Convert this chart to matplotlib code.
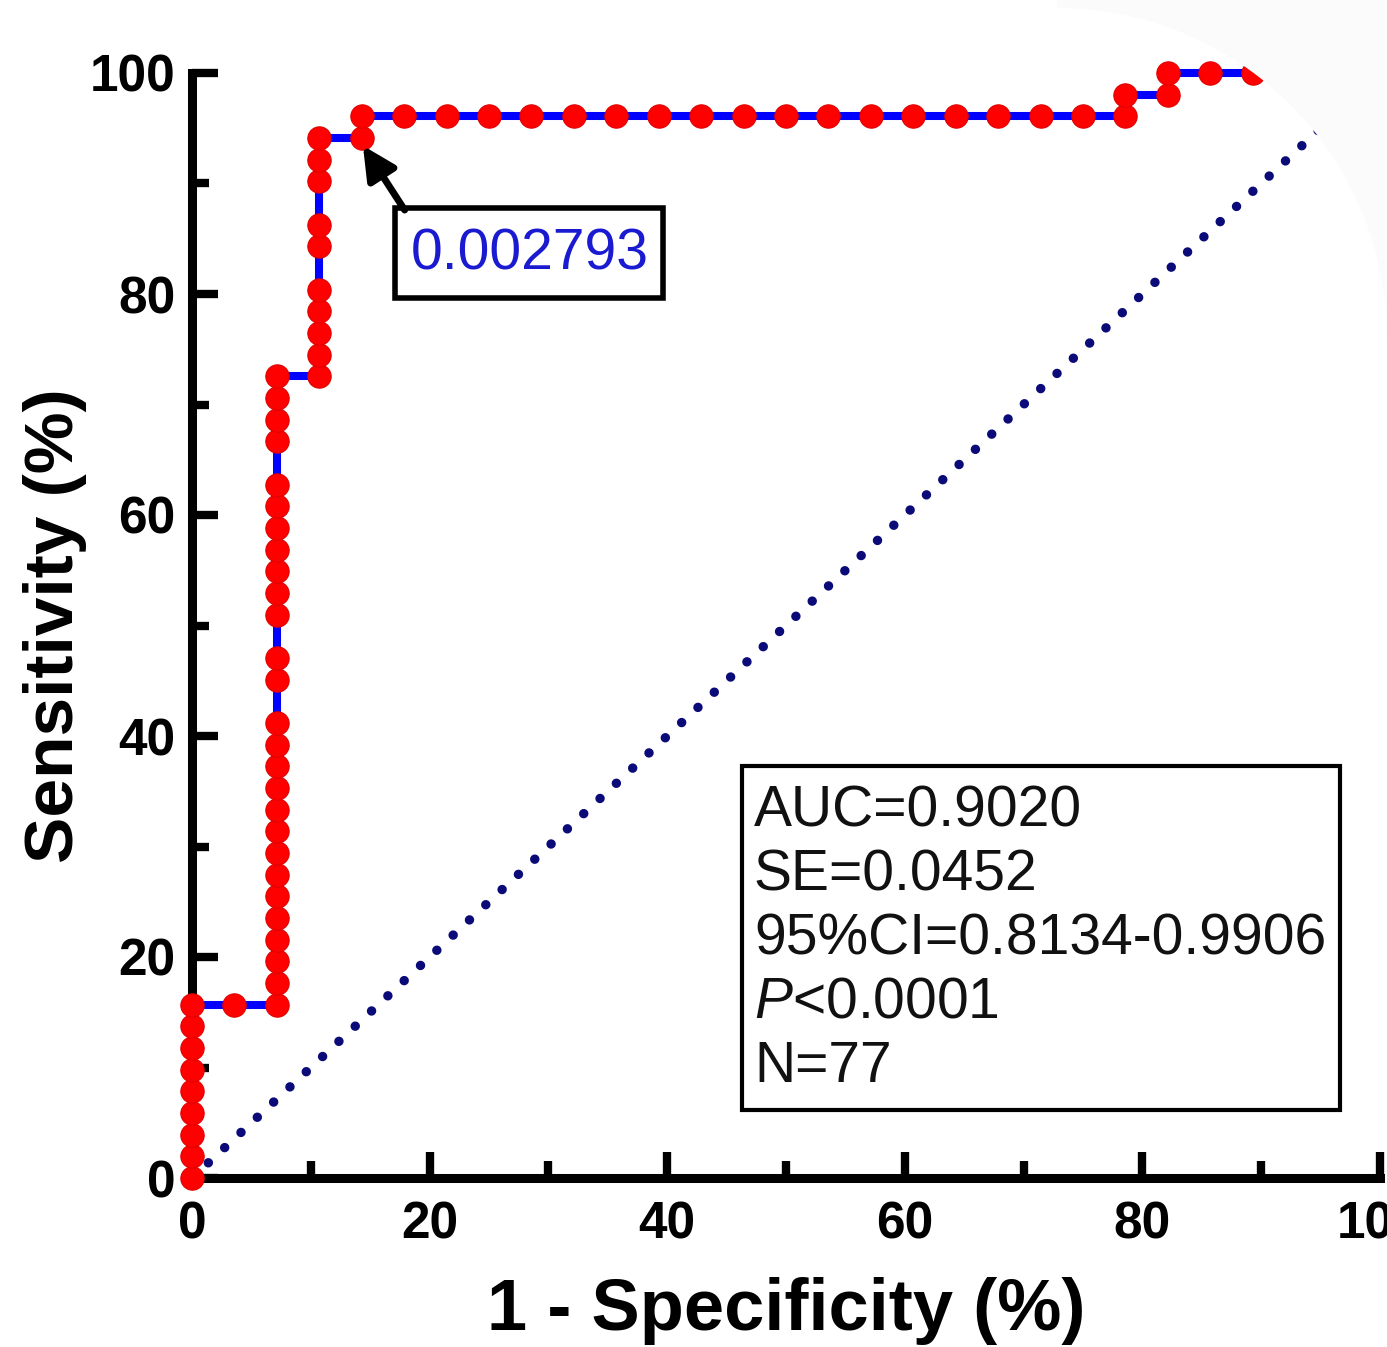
import numpy as np
import matplotlib
matplotlib.use('Agg')
import matplotlib.pyplot as plt
from matplotlib.patches import Rectangle, Polygon

plt.rcParams['font.family'] = ['Liberation Sans', 'DejaVu Sans']
plt.rcParams['mathtext.fontset'] = 'custom'
plt.rcParams['mathtext.rm'] = 'Liberation Sans'
plt.rcParams['mathtext.it'] = 'Liberation Sans:italic'

# ROC-Punkte (1 - Spezifitaet, Sensitivitaet) in %
fpr = [0, 0, 0, 0, 0, 0, 0, 0, 0,
       3.57,
       7.14, 7.14, 7.14, 7.14, 7.14, 7.14, 7.14, 7.14, 7.14, 7.14,
       7.14, 7.14, 7.14, 7.14, 7.14, 7.14, 7.14, 7.14, 7.14, 7.14,
       7.14, 7.14, 7.14, 7.14, 7.14, 7.14, 7.14,
       10.71, 10.71, 10.71, 10.71, 10.71, 10.71, 10.71, 10.71, 10.71, 10.71,
       14.29, 14.29,
       17.86, 21.43, 25.00, 28.57, 32.14, 35.71, 39.29, 42.86, 46.43,
       50.00, 53.57, 57.14, 60.71, 64.29, 67.86, 71.43, 75.00, 78.57,
       78.57,
       82.14, 82.14,
       85.71, 89.29, 92.86, 96.43, 100.0]
sens = [0, 1.96, 3.92, 5.88, 7.84, 9.80, 11.76, 13.73, 15.69,
        15.69,
        15.69, 17.65, 19.61, 21.57, 23.53, 25.49, 27.45, 29.41, 31.37, 33.33,
        35.29, 37.25, 39.22, 41.18, 45.10, 47.06, 50.98, 52.94, 54.90, 56.86,
        58.82, 60.78, 62.75, 66.67, 68.63, 70.59, 72.55,
        72.55, 74.51, 76.47, 78.43, 80.39, 84.31, 86.27, 90.20, 92.16, 94.12,
        94.12, 96.08,
        96.08, 96.08, 96.08, 96.08, 96.08, 96.08, 96.08, 96.08, 96.08,
        96.08, 96.08, 96.08, 96.08, 96.08, 96.08, 96.08, 96.08, 96.08,
        98.04,
        98.04, 100,
        100, 100, 100, 100, 100]

diag = [0, 100]
cutoff_label = '0.002793'
cutoff_point = (14.29, 94.12)
stats_lines = ['AUC=0.9020', 'SE=0.0452', '95%CI=0.8134-0.9906',
               r'$\it{P}$<0.0001', 'N=77']
ticks = [0, 20, 40, 60, 80, 100]

W, H = 1387, 1347
fig = plt.figure(figsize=(W / 100, H / 100), dpi=100)
ax = fig.add_axes([192 / W, 1 - 1178 / H, (1380 - 192) / W, (1178 - 73) / H])

# Diagonale
ax.plot(diag, diag, color='#0a0a78', lw=6.8, dashes=(0.01, 2.35),
        dash_capstyle='round', clip_on=False, zorder=2)

# ROC Kurve
ax.plot(fpr, sens, color='#0000ff', lw=5.8, clip_on=False, zorder=3)
ax.plot(fpr, sens, 'o', color='#ff0000', ms=16.8, mec='#e00000', mew=0.8,
        ls='none', clip_on=False, zorder=4)

ax.set_xlim(0, 100)
ax.set_ylim(0, 100)
ax.set_xticks(ticks)
ax.set_yticks(ticks)
ax.set_xticks([10, 30, 50, 70, 90], minor=True)
ax.set_yticks([10, 30, 50, 70, 90], minor=True)
for s in ['top', 'right']:
    ax.spines[s].set_visible(False)
for s in ['left', 'bottom']:
    ax.spines[s].set_linewidth(6.5)
ax.tick_params(which='major', direction='in', length=19, width=6, pad=12,
               labelsize=37)
ax.tick_params(which='minor', direction='in', length=12, width=6)
ax.tick_params(axis='x', which='major', pad=16)
for lab in ax.get_xticklabels() + ax.get_yticklabels():
    lab.set_fontweight('bold')

ax.set_xlabel('1 - Specificity (%)', fontsize=52, fontweight='bold', labelpad=20)
ax.set_ylabel('Sensitivity (%)', fontsize=50, fontweight='bold', labelpad=2)

# Cut-off Kasten mit Pfeil
ax.add_patch(Rectangle((17.09, 79.64), 22.56, 8.14, fill=True, fc='white',
                       ec='black', lw=4, zorder=5))
ax.text(28.4, 83.6, cutoff_label, color='#1a1ad0', fontsize=41,
        ha='center', va='center', zorder=6)
ax.annotate('', xy=(cutoff_point[0] + 0.1, cutoff_point[1] - 0.7),
            xytext=(17.9, 87.6),
            arrowprops=dict(arrowstyle='-|>,head_length=2.0,head_width=1.0',
                            color='black', lw=5, shrinkA=0, shrinkB=0),
            zorder=6)

# Statistik Kasten
ax.add_patch(Rectangle((46.3, 6.15), 50.3, 31.15, fill=True, fc='white',
                       ec='black', lw=3, zorder=5))
for i, line in enumerate(stats_lines):
    ax.text(47.3, 31.8 - i * 5.77, line, fontsize=41, color='#111111',
            ha='left', va='baseline', zorder=6)

# abgerundete Ecke oben rechts
R, cx, cy = 330, 1057, 338
t = np.linspace(np.pi / 2, 0, 60)
arc = [((cx + R * np.cos(a)) / W, 1 - (cy - R * np.sin(a)) / H) for a in t]
corner = [(cx / W, 1.0)] + arc + [(1.0, 1 - cy / H), (1.0, 1.0)]
fig.add_artist(Polygon(corner, closed=True, transform=fig.transFigure,
                       fc='#fbfbfb', ec='none', zorder=10))

fig.savefig('out.png', dpi=100, facecolor='white')
